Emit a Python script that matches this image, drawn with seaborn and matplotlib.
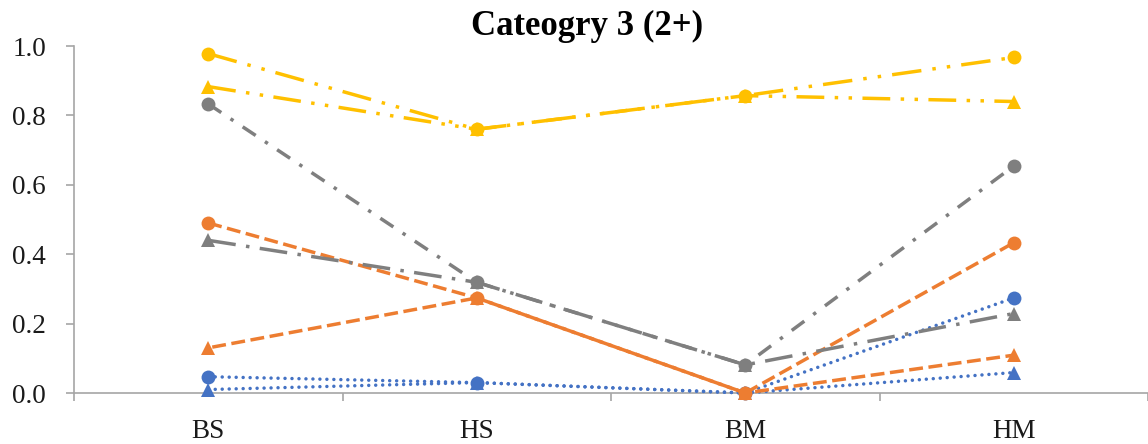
import matplotlib
matplotlib.use("Agg")
import matplotlib.pyplot as plt
from matplotlib.ticker import FixedLocator
import seaborn as sns
import pandas as pd
import numpy as np

# Categories on the x axis
categories = ["BS", "HS", "BM", "HM"]

# Series values (one list per line)
blue_circle = [0.047, 0.030, 0.000, 0.274]
blue_triangle = [0.010, 0.030, 0.000, 0.059]
orange_circle = [0.490, 0.274, 0.000, 0.433]
orange_triangle = [0.130, 0.274, 0.000, 0.109]
gray_circle = [0.833, 0.319, 0.081, 0.654]
gray_triangle = [0.440, 0.319, 0.081, 0.229]
yellow_circle = [0.978, 0.760, 0.857, 0.967]
yellow_triangle = [0.883, 0.760, 0.857, 0.840]

# Title and tick labels
title = "Cateogry 3 (2+)"
y_ticks = [0.0, 0.2, 0.4, 0.6, 0.8, 1.0]
y_tick_labels = ["0.0", "0.2", "0.4", "0.6", "0.8", "1.0"]

BLUE = "#4472C4"
ORANGE = "#ED7D31"
GRAY = "#7F7F7F"
YELLOW = "#FFC000"

sns.set_theme(style="white")
plt.rcParams["font.family"] = ["Liberation Serif", "DejaVu Serif"]

DPI = 100
fig = plt.figure(figsize=(11.48, 4.44), dpi=DPI)
ax = fig.add_axes([74 / 1148, (444 - 393) / 444, 1 - 74 / 1148, (393 - 46) / 444])
ax.set_xlim(-0.5, 3.5)
ax.set_ylim(0, 1.0)

LW = 2.5
ORANGE_DASH = (4.0, 1.6)


def first_leg_length(values):
    """Length in points of the first segment of a line, in display space."""
    pts = ax.transData.transform(np.column_stack([[0, 1], values[:2]]))
    return np.hypot(*(pts[1] - pts[0])) * 72 / DPI


# Shift the orange triangle dashes half a period against the orange circle
# dashes, so the shared HS-BM segment reads as a continuous stroke.
period = sum(ORANGE_DASH)
shift = (first_leg_length(orange_circle) - first_leg_length(orange_triangle)) / LW
orange_offset = (shift + period / 2) % period

series = [
    # values, colour, marker, dash pattern (in line widths), cap style
    (blue_circle, BLUE, "o", (0, (0.01, 2.0)), "round"),
    (blue_triangle, BLUE, "^", (0, (0.01, 2.0)), "round"),
    (orange_circle, ORANGE, "o", (0, ORANGE_DASH), "butt"),
    (orange_triangle, ORANGE, "^", (orange_offset, ORANGE_DASH), "butt"),
    (gray_circle, GRAY, "o", (0, (4.5, 3.2, 1.0, 3.2)), "butt"),
    (gray_triangle, GRAY, "^", (0, (8.0, 3.0, 1.0, 3.0)), "butt"),
    (yellow_circle, YELLOW, "o", (0, (8.5, 3.2, 1.0, 3.2, 1.0, 3.2)), "butt"),
    (yellow_triangle, YELLOW, "^", (0, (8.0, 3.0, 1.0, 3.0, 1.0, 3.0)), "butt"),
]

for values, color, marker, dash, cap in series:
    df = pd.DataFrame({"category": categories, "value": values})
    sns.lineplot(
        data=df, x="category", y="value", ax=ax, sort=False,
        color=color, linewidth=LW, linestyle=dash,
        dash_capstyle=cap, solid_capstyle="butt",
        marker=marker, markersize=10 if marker == "o" else 10.5,
        markeredgewidth=0, markeredgecolor=color, markerfacecolor=color,
        clip_on=False, zorder=3,
    )

ax.set_xlim(-0.5, 3.5)
ax.set_ylim(0, 1.0)
ax.set_xlabel("")
ax.set_ylabel("")

ax.set_yticks(y_ticks)
ax.set_yticklabels(y_tick_labels)
ax.set_xticks(range(len(categories)))
ax.set_xticklabels(categories)
ax.xaxis.set_minor_locator(FixedLocator([-0.5, 0.5, 1.5, 2.5, 3.5]))

axis_color = "#A6A6A6"
for side in ["top", "right"]:
    ax.spines[side].set_visible(False)
for side in ["left", "bottom"]:
    ax.spines[side].set_color(axis_color)
    ax.spines[side].set_linewidth(1.2)

ax.tick_params(axis="y", which="major", direction="out", length=6, width=1.2,
               color=axis_color, labelsize=19.5, labelcolor="#1a1a1a", pad=14, left=True)
ax.tick_params(axis="x", which="major", length=0, labelsize=19.5,
               labelcolor="#1a1a1a", pad=19, bottom=True)
ax.tick_params(axis="x", which="minor", direction="out", length=6, width=1.2,
               color=axis_color, bottom=True)
ax.grid(False)

fig.text(587 / 1148, 1 - 26 / 444, title, ha="center", va="center",
         fontsize=25, fontweight="bold", color="black")

fig.savefig("out.png", dpi=DPI)
